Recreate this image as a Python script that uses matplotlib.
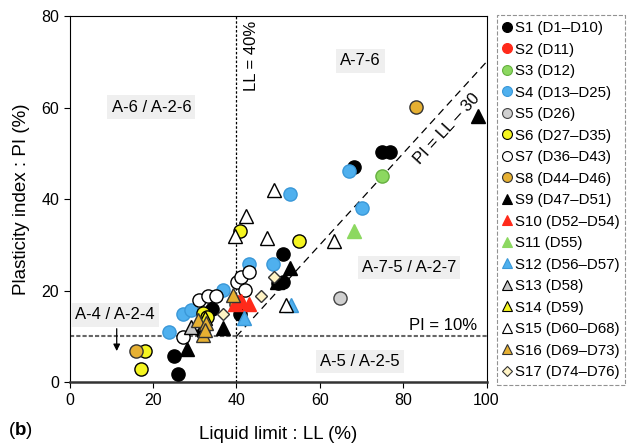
import matplotlib
matplotlib.use("Agg")
import matplotlib.pyplot as plt
from matplotlib.lines import Line2D

plt.rcParams['font.family'] = ['Liberation Sans', 'DejaVu Sans']
plt.rcParams['mathtext.fontset'] = 'custom'
plt.rcParams['mathtext.bf'] = 'Liberation Sans:bold'
plt.rcParams['mathtext.rm'] = 'Liberation Sans'

# series: label, marker, face, edge, LL values, PI values
labels = ["S1 (D1\u2013D10)", "S2 (D11)", "S3 (D12)", "S4 (D13\u2013D25)", "S5 (D26)",
          "S6 (D27\u2013D35)", "S7 (D36\u2013D43)", "S8 (D44\u2013D46)", "S9 (D47\u2013D51)",
          "S10 (D52\u2013D54)", "S11 (D55)", "S12 (D56\u2013D57)", "S13 (D58)", "S14 (D59)",
          "S15 (D60\u2013D68)", "S16 (D69\u2013D73)", "S17 (D74\u2013D76)"]
markers = ["o"] * 8 + ["^"] * 8 + ["D"]
faces = ["black", "#ff2a1a", "#8cd860", "#4fb0ee", "#d0d0d0", "#f5f520", "white", "#e6b032",
         "black", "#ff2a1a", "#8cd860", "#4fb0ee", "#c8c8c8", "#f5f520", "white", "#e6b032", "#fff3c4"]
edges = ["black", "#ff2a1a", "#66b040", "#3a98d8", "#444444", "black", "black", "#333333",
         "black", "#ff2a1a", "#8cd860", "#3a98d8", "black", "black", "black", "#333333", "#333333"]

LL = [
    [25.1, 25.9, 34.1, 32.1, 40.9, 50.0, 51.2, 51.1, 68.1, 74.9, 76.9],
    [40.5],
    [75.0],
    [23.9, 27.1, 29.1, 36.9, 43.0, 48.9, 52.9, 70.1, 67.0],
    [64.9],
    [18.1, 17.1, 32.1, 33.0, 40.9, 55.0],
    [27.1, 31.1, 33.1, 35.1, 40.1, 41.1, 43.0, 42.1],
    [15.9, 83.0, 39.9],
    [28.1, 36.9, 52.9, 49.7, 98.0],
    [39.7, 41.1, 43.1],
    [68.1],
    [41.8, 53.1],
    [29.1],
    [32.5],
    [49.0, 42.3, 39.7, 47.4, 63.5, 51.9],
    [30.7, 32.8, 31.9, 39.3, 32.5],
    [36.9, 46.0, 49.0],
]
PI = [
    [5.8, 1.9, 16.0, 10.7, 15.0, 21.7, 22.0, 28.0, 47.1, 50.3, 50.3],
    [17.5],
    [45.1],
    [10.9, 14.9, 15.8, 20.1, 25.9, 25.9, 41.1, 38.0, 46.1],
    [18.4],
    [6.9, 2.8, 15.1, 14.2, 33.1, 30.9],
    [9.9, 18.0, 18.8, 18.8, 22.0, 23.0, 24.0, 20.1],
    [6.9, 60.2, 17.0],
    [7.2, 11.8, 25.0, 21.8, 58.2],
    [17.0, 17.7, 17.0],
    [33.0],
    [14.0, 16.9],
    [12.0],
    [14.0],
    [41.9, 36.3, 31.9, 31.5, 30.8, 16.9],
    [13.6, 13.0, 10.3, 19.1, 11.5],
    [15.0, 18.9, 23.0],
]

fig = plt.figure(figsize=(6.27, 4.46), dpi=100)
ax = fig.add_axes([0.111, 0.143, 0.665, 0.821])

# boundary lines
ax.axvline(40, color="black", lw=0.9, ls=(0, (2, 1.5)), zorder=1)
ax.axhline(10, color="#666666", lw=1.5, ls=(0, (2, 1)), zorder=1)
ax.plot([40, 100], [10, 70], color="black", lw=0.9, ls=(0, (6, 4)), zorder=1)

handles = []
for lab, m, fc, ec, xs, ys in zip(labels, markers, faces, edges, LL, PI):
    ms = 9.5 if m != "D" else 6.5
    ax.plot(xs, ys, ls="none", marker=m, ms=ms, mfc=fc, mec=ec, mew=1.0, zorder=3)
    handles.append(Line2D([], [], ls="none", marker=m, ms=ms * 0.75, mfc=fc, mec=ec, mew=0.8, label=lab))

box = dict(facecolor="#efefef", edgecolor="none", pad=3)
fs = 12
ax.text(19.6, 60.1, "A-6 / A-2-6", ha="center", va="center", fontsize=fs, bbox=box)
ax.text(69.7, 70.2, "A-7-6", ha="center", va="center", fontsize=fs, bbox=box)
ax.text(81.4, 25.0, "A-7-5 / A-2-7", ha="center", va="center", fontsize=fs, bbox=box)
ax.text(69.7, 4.5, "A-5 / A-2-5", ha="center", va="center", fontsize=fs, bbox=box)
ax.text(10.9, 14.7, "A-4 / A-2-4", ha="center", va="center", fontsize=fs, bbox=box)
ax.annotate("", xy=(11.3, 6.2), xytext=(11.3, 12.3),
            arrowprops=dict(arrowstyle="-|>", color="black", lw=0.9, mutation_scale=10))
ax.text(41.8, 79.0, "LL = 40%", rotation=90, ha="left", va="top", fontsize=fs)
ax.text(97.8, 12.3, "PI = 10%", ha="right", va="center", fontsize=fs)
ax.text(90.5, 55.3, "PI = LL \u2013 30", rotation=47.6, ha="center", va="center",
        fontsize=fs, rotation_mode="anchor")

ax.set_xlim(0, 100)
ax.set_ylim(0, 80)
ax.set_xticks([0, 20, 40, 60, 80, 100])
ax.set_yticks([0, 20, 40, 60, 80])
ax.tick_params(direction="out", length=4, labelsize=11.5)
ax.spines["bottom"].set_linewidth(1.8)
ax.spines["bottom"].set_color("#333333")
ax.set_xlabel("Liquid limit : LL (%)", fontsize=13.5, labelpad=13)
ax.set_ylabel("Plasticity index : PI (%)", fontsize=13.5, labelpad=8)

leg = fig.legend(handles=handles, loc="upper left", bbox_to_anchor=(0.792, 0.966),
                 fontsize=10.8, frameon=True, fancybox=False, handlelength=0.6,
                 handletextpad=0.2, labelspacing=0.5, borderpad=0.4, borderaxespad=0)
leg.get_frame().set_linestyle("--")
leg.get_frame().set_edgecolor("#777777")
leg.get_frame().set_linewidth(0.8)

fig.text(0.013, 0.025, r"($\mathbf{b}$)", fontsize=13.5)

fig.savefig("out.png", dpi=100)
